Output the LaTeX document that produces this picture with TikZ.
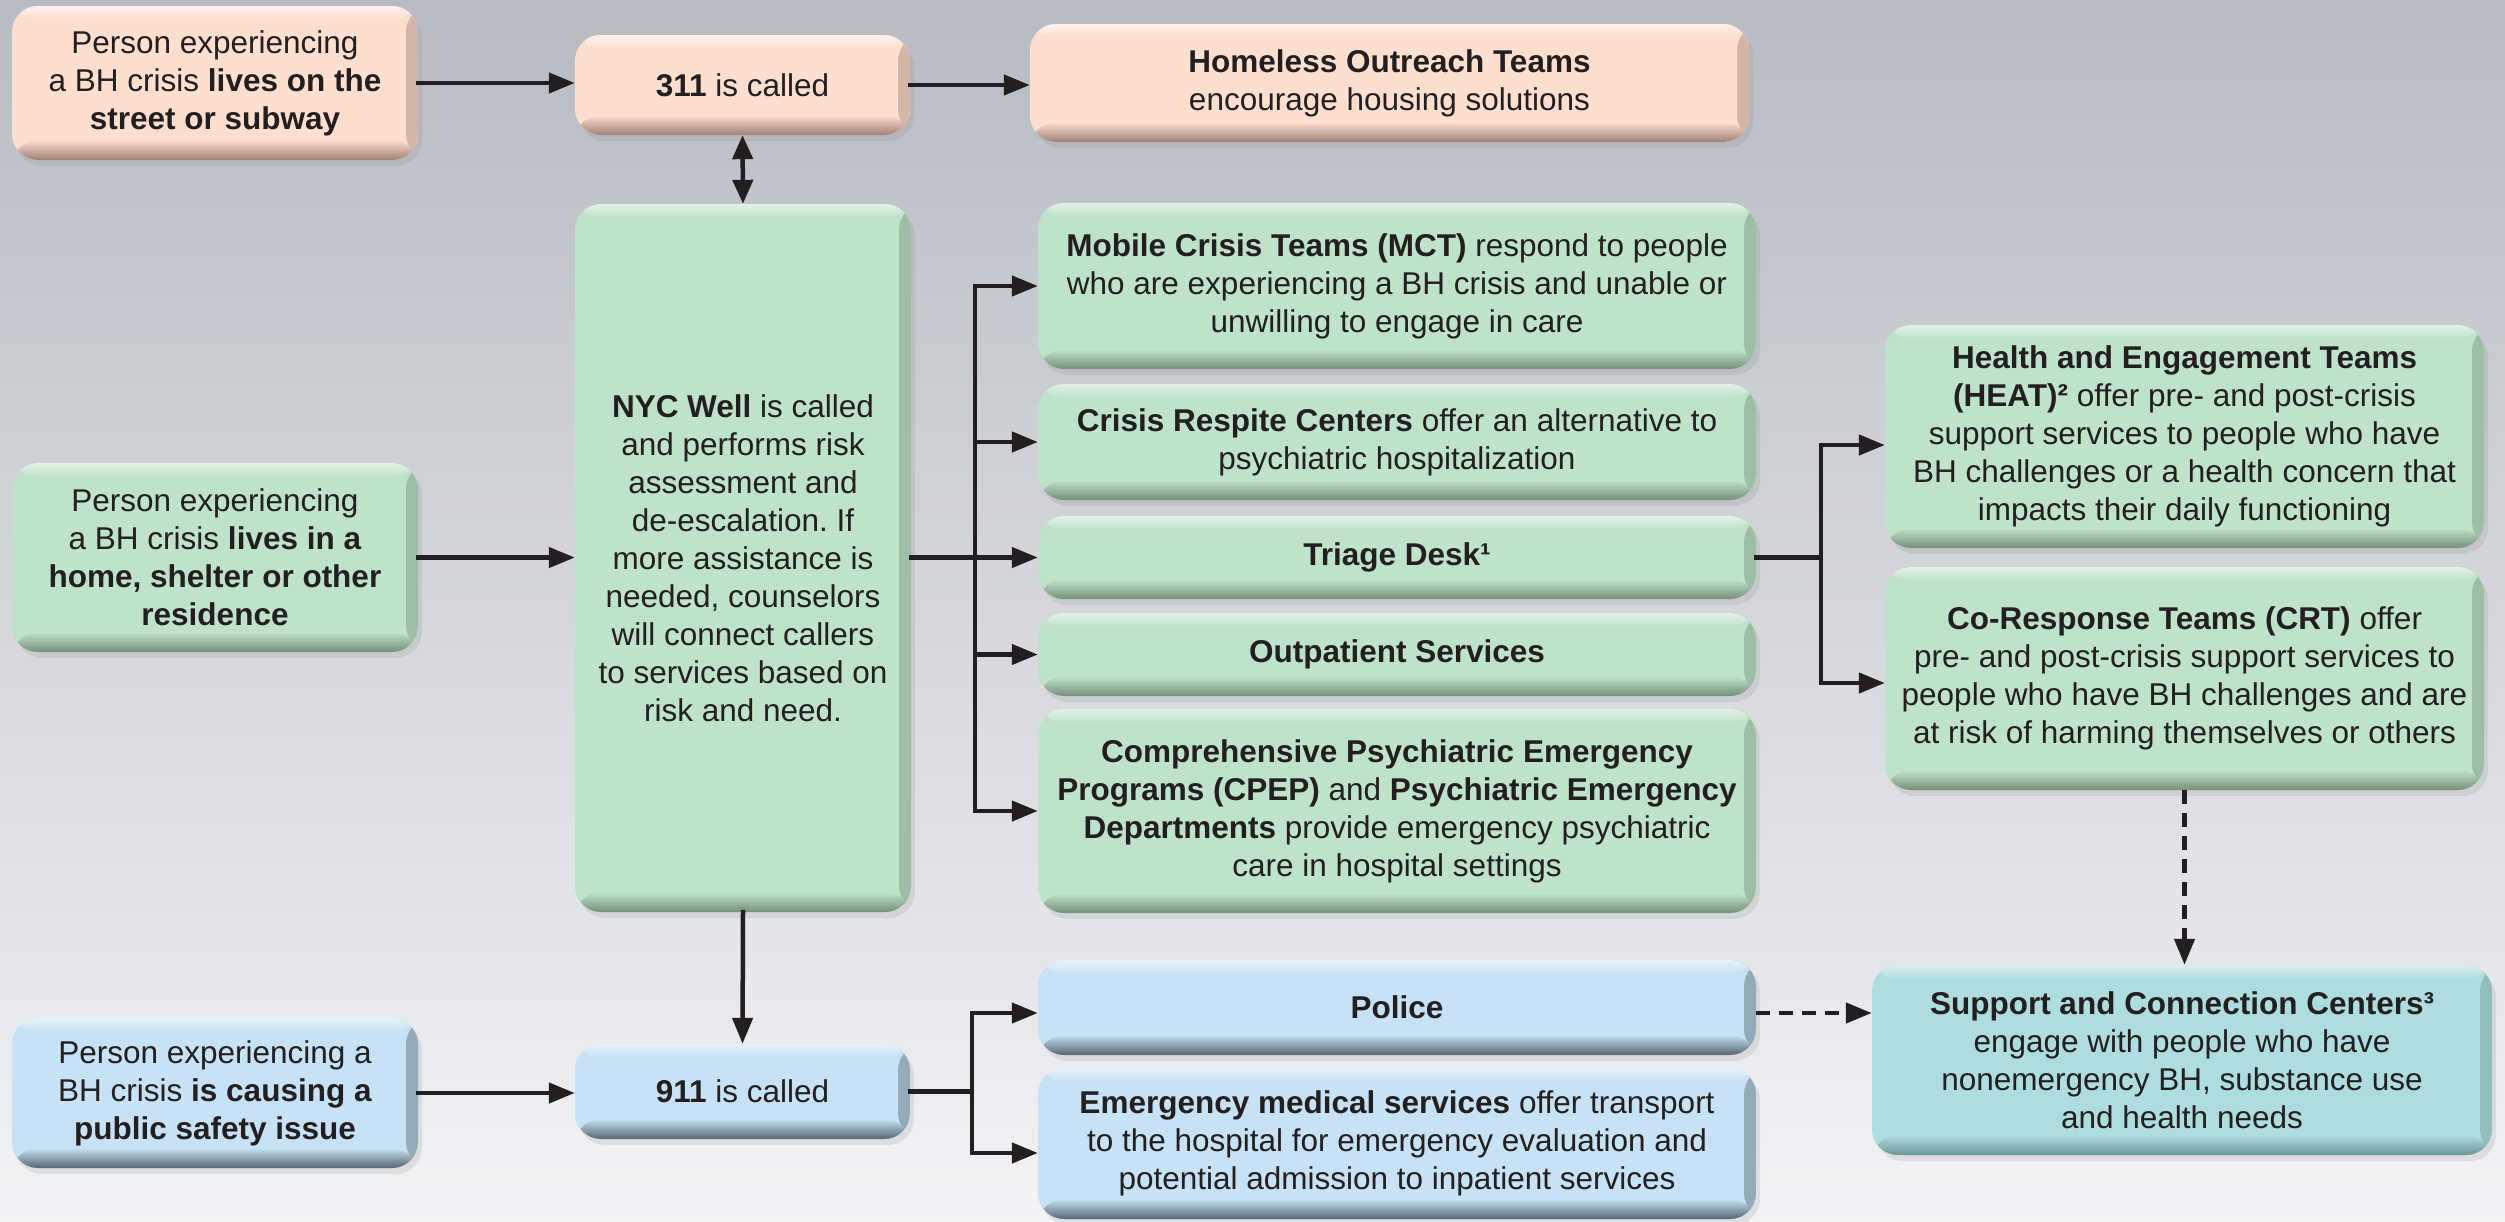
\documentclass[tikz,border=0pt]{standalone}
\usepackage{fontspec}
\setmainfont{Liberation Sans}
\usetikzlibrary{arrows.meta,shadows,calc}
\frenchspacing
\definecolor{bgtop}{HTML}{B8BBC2}
\definecolor{bgmid}{HTML}{CBCDD2}
\definecolor{bgbot}{HTML}{F2F3F5}
\definecolor{txt}{HTML}{231F20}
\definecolor{peach}{HTML}{FDDFD0}
\definecolor{peachd}{HTML}{9E8077}
\definecolor{grn}{HTML}{BEE2CA}
\definecolor{grnd}{HTML}{768F7C}
\definecolor{blu}{HTML}{C6E2F4}
\definecolor{blud}{HTML}{56656F}
\definecolor{tealb}{HTML}{ADDDDE}
\definecolor{teald}{HTML}{6F9596}
\newcommand\myfs{\fontsize{31.5}{38}\selectfont\frenchspacing}
\tikzset{
  bx/.style n args={2}{draw=none, fill=#1, rounded corners=26pt, inner sep=0pt,
    align=center, text=txt, font=\myfs,
    drop shadow={shadow xshift=4pt, shadow yshift=-6pt, opacity=0.16},
    path picture={
      \shade[left color=#1, right color=#2!45!#1]
        ([xshift=-12pt]path picture bounding box.north east) rectangle (path picture bounding box.south east);
      \shade[top color=#1!45!white, bottom color=#1]
        (path picture bounding box.north west) rectangle ([yshift=-14pt]path picture bounding box.north east);
      \shade[top color=#1, bottom color=#2]
        ([yshift=20pt]path picture bounding box.south west) rectangle (path picture bounding box.south east);
    }},
  pbox/.style={bx={peach}{peachd}},
  gbox/.style={bx={grn}{grnd}},
  bbox/.style={bx={blu}{blud}},
  tbox/.style={bx={tealb}{teald}},
  ln/.style={line width=4.5pt, draw=txt, line cap=rect},
  arr/.style={ln, -{Triangle[length=26pt,width=20pt]}},
  darr/.style={arr, line cap=butt, dash pattern=on 14pt off 9pt},
  biarr/.style={line width=4.5pt, draw=txt, {Triangle[length=24pt,width=20pt]}-{Triangle[length=24pt,width=20pt]}},
}
\begin{document}
\begin{tikzpicture}[x=1pt,y=-1pt]
\useasboundingbox (0,0) rectangle (2505,1221);
\shade[top color=bgtop, middle color=bgmid, bottom color=bgbot] (0,0) rectangle (2505,1221);

% left column
\node[pbox, minimum width=406pt, minimum height=154pt] (p1) at (215,83)
  {Person experiencing\\ a BH crisis \textbf{lives on the}\\ \textbf{street or subway}};
\node[gbox, minimum width=406pt, minimum height=189pt] (p2) at (215,557.5)
  {Person experiencing\\ a BH crisis \textbf{lives in a}\\ \textbf{home, shelter or other}\\ \textbf{residence}};
\node[bbox, minimum width=406pt, minimum height=150pt] (p3) at (215,1093)
  {Person experiencing a\\ BH crisis \textbf{is causing a}\\ \textbf{public safety issue}};

% second column
\node[pbox, minimum width=335pt, minimum height=100pt] (c311) at (742.5,85)
  {\textbf{311} is called};
\node[gbox, minimum width=336pt, minimum height=708pt] (nyc) at (743,558)
  {\textbf{NYC Well} is called\\ and performs risk\\ assessment and\\ de-escalation. If\\ more assistance is\\ needed, counselors\\ will connect callers\\ to services based on\\ risk and need.};
\node[bbox, minimum width=335pt, minimum height=95pt] (c911) at (742.5,1091.5)
  {\textbf{911} is called};

% third column
\node[pbox, minimum width=719pt, minimum height=118pt] (home) at (1389.5,83)
  {\textbf{Homeless Outreach Teams}\\ encourage housing solutions};
\node[gbox, minimum width=718pt, minimum height=166pt] (mct) at (1397,286)
  {\textbf{Mobile Crisis Teams (MCT)} respond to people\\ who are experiencing a BH crisis and unable or\\ unwilling to engage in care};
\node[gbox, minimum width=718pt, minimum height=116pt] (resp) at (1397,442)
  {\textbf{Crisis Respite Centers} offer an alternative to\\ psychiatric hospitalization};
\node[gbox, minimum width=718pt, minimum height=83pt] (tri) at (1397,557.5)
  {\textbf{Triage Desk¹}};
\node[gbox, minimum width=718pt, minimum height=83pt] (outp) at (1397,654.5)
  {\textbf{Outpatient Services}};
\node[gbox, minimum width=718pt, minimum height=204pt] (cpep) at (1397,811)
  {\textbf{Comprehensive Psychiatric Emergency}\\ \textbf{Programs (CPEP)} and \textbf{Psychiatric Emergency}\\ \textbf{Departments} provide emergency psychiatric\\ care in hospital settings};
\node[bbox, minimum width=718pt, minimum height=95pt] (pol) at (1397,1007.5)
  {\textbf{Police}};
\node[bbox, minimum width=718pt, minimum height=151pt] (ems) at (1397,1143.5)
  {\textbf{Emergency medical services} offer transport\\ to the hospital for emergency evaluation and\\ potential admission to inpatient services};

% fourth column
\node[gbox, minimum width=599pt, minimum height=223pt] (heat) at (2184.5,436.5)
  {\textbf{Health and Engagement Teams}\\ \textbf{(HEAT)²} offer pre- and post-crisis\\ support services to people who have\\ BH challenges or a health concern that\\ impacts their daily functioning};
\node[gbox, minimum width=599pt, minimum height=223pt] (crt) at (2184.5,678.5)
  {\textbf{Co-Response Teams (CRT)} offer\\ pre- and post-crisis support services to\\ people who have BH challenges and are\\ at risk of harming themselves or others};
\node[tbox, minimum width=620pt, minimum height=190pt] (scc) at (2182,1060)
  {\textbf{Support and Connection Centers³}\\ engage with people who have\\ nonemergency BH, substance use\\ and health needs};

% bus coordinates
\coordinate (busA) at (975,0);
\coordinate (busB) at (1821,0);
\coordinate (busC) at (972,0);
\coordinate (hA) at (1821,445);
\coordinate (hB) at (1821,683);
\coordinate (pA) at (972,1013);
\coordinate (pB) at (972,1153);

% connectors
\draw[arr] (p1.east) -- (p1.east -| c311.west);
\draw[arr] (c311.east) -- (c311.east -| home.west);
\draw[biarr] (c311.south) -- (nyc.north);
\draw[arr] (p2.east) -- (p2.east -| nyc.west);
\draw[arr] (nyc.south) -- (c911.north);
\draw[arr] (p3.east) -- (p3.east -| c911.west);

\draw[arr] (busA |- cpep.west) -- (busA |- mct.west) -- (mct.west);
\draw[arr] (busA |- resp.west) -- (resp.west);
\draw[arr] (nyc.east |- tri.west) -- (tri.west);
\draw[arr] (busA |- outp.west) -- (outp.west);
\draw[arr] (busA |- cpep.west) -- (cpep.west);

\draw[ln] (tri.east) -- (busB |- tri.east);
\draw[arr] (hB) -- (hA) -- (hA -| heat.west);
\draw[arr] (hB) -- (hB -| crt.west);

\draw[ln] (c911.east) -- (busC |- c911.east);
\draw[arr] (pB) -- (pA) -- (pA -| pol.west);
\draw[arr] (pB) -- (pB -| ems.west);

\draw[darr] (crt.south) -- (crt.south |- scc.north);
\draw[darr] (pol.east |- pA) -- (pA -| scc.west);
\end{tikzpicture}
\end{document}
